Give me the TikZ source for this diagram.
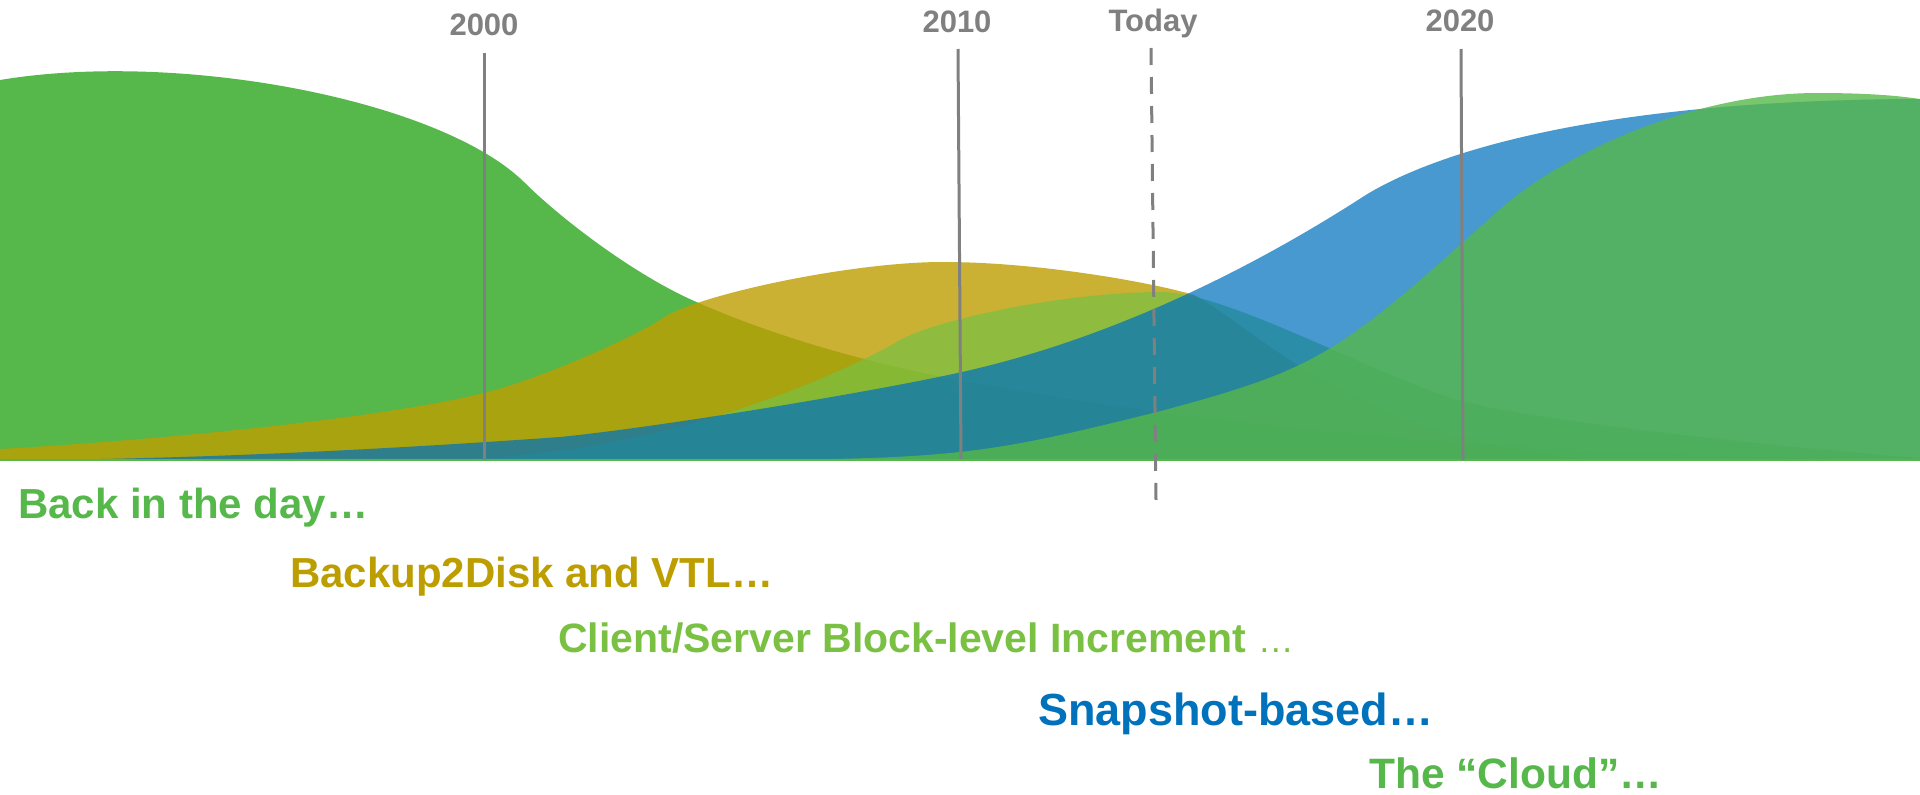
\documentclass[tikz,border=0pt]{standalone}
\usepackage{fontspec}
\setmainfont{Liberation Sans}
\definecolor{eragreen}{RGB}{86,184,74}
\definecolor{eragold}{RGB}{189,158,0}
\definecolor{eralime}{RGB}{122,193,67}
\definecolor{erablue}{RGB}{0,114,188}
\definecolor{eragrey}{RGB}{128,128,128}
\begin{document}
\begin{tikzpicture}[x=1pt,y=-1pt,
  yearline/.style={draw=eragrey, line width=3pt},
  yearlabel/.style={text=eragrey, font=\fontsize{31}{36}\selectfont\bfseries, anchor=base, inner sep=0pt},
  eralabel/.style={font=\fontsize{42}{49}\selectfont\bfseries, anchor=base west, inner sep=0pt}]

\useasboundingbox (0,0) rectangle (1920,795);

\begin{scope}
\clip (0,0) rectangle (1920,795);
% Back in the day
\fill[eragreen] (0,460) -- (0,80)
  .. controls (180,50) and (440,100) .. (524,182)
  .. controls (560,218) and (632,273) .. (692,300)
  .. controls (772,336) and (863,361) .. (943,377)
  .. controls (1040,396) and (1157,413) .. (1257,424)
  .. controls (1400,440) and (1650,459) .. (1920,460) -- cycle;
% Backup2Disk and VTL
\fill[eragold, fill opacity=0.8] (0,460) -- (0,449)
  .. controls (160,440) and (384,418) .. (484,393)
  .. controls (540,379) and (633,338) .. (663,318)
  .. controls (697,295) and (850,262) .. (943,262)
  .. controls (1040,262) and (1154,283) .. (1194,295)
  .. controls (1260,330) and (1350,440) .. (1600,460)
  -- (1920,460) -- cycle;
% Client/Server block-level increment
\fill[eralime, fill opacity=0.72] (450,460)
  .. controls (650,455) and (820,385) .. (895,343)
  .. controls (925,322) and (1060,292) .. (1161,292)
  .. controls (1230,292) and (1386,382) .. (1466,402)
  .. controls (1546,422) and (1760,445) .. (1920,458)
  -- (1920,460) -- cycle;
% Snapshot-based
\fill[erablue, fill opacity=0.72] (0,460)
  .. controls (200,460) and (420,447) .. (560,437)
  .. controls (660,427) and (872,392) .. (962,372)
  .. controls (1092,343) and (1228,283) .. (1358,200)
  .. controls (1410,165) and (1560,100) .. (1920,99)
  -- (1920,460) -- cycle;
% The Cloud
\fill[eragreen, fill opacity=0.8] (650,460)
  .. controls (950,460) and (971,458.5) .. (1161,411)
  .. controls (1321,368) and (1339,354) .. (1499,210)
  .. controls (1570,148) and (1700,93) .. (1817,93)
  .. controls (1870,93) and (1900,96) .. (1920,99)
  -- (1920,460) -- cycle;
\end{scope}

% time axis
\coordinate (axisL) at (0,459.5);
\coordinate (axisR) at (1920,459.5);
\draw[eragreen, line width=2pt] (axisL) -- (axisR);

% year markers
\node[yearlabel] (t2000) at (484,35) {2000};
\node[yearlabel] (t2010) at (957,32) {2010};
\node[yearlabel] (ttoday) at (1153,31) {Today};
\node[yearlabel] (t2020) at (1460,31) {2020};

\coordinate (m2000a) at (484,53);  \coordinate (m2000b) at (484,460);
\coordinate (m2010a) at (958,49);  \coordinate (m2010b) at (961,459);
\coordinate (mtodaya) at (1151,48); \coordinate (mtodayb) at (1156,500);
\coordinate (m2020a) at (1461,49); \coordinate (m2020b) at (1463,460);
\draw[yearline] (m2000a) -- (m2000b);
\draw[yearline] (m2010a) -- (m2010b);
\draw[yearline, dash pattern=on 17pt off 12pt] (mtodaya) -- (mtodayb);
\draw[yearline] (m2020a) -- (m2020b);

% era captions
\node[eralabel, text=eragreen] (lbldays) at (18,518) {Back in the day…};
\node[eralabel, text=eragold] (lbldisk) at (290,587) {Backup2Disk and VTL…};
\node[eralabel, text=eralime, font=\fontsize{41}{49}\selectfont\bfseries] (lblblock) at (558,652) {Client/Server Block-level Increment {\mdseries\fontsize{36}{40}\selectfont …}};
\node[eralabel, text=erablue, font=\fontsize{45}{54}\selectfont\bfseries] (lblsnap) at (1038,725) {Snapshot-based…};
\node[eralabel, text=eragreen, font=\fontsize{42.5}{49}\selectfont\bfseries] (lblcloud) at (1369,788) {The “Cloud”…};
\end{tikzpicture}
\end{document}
